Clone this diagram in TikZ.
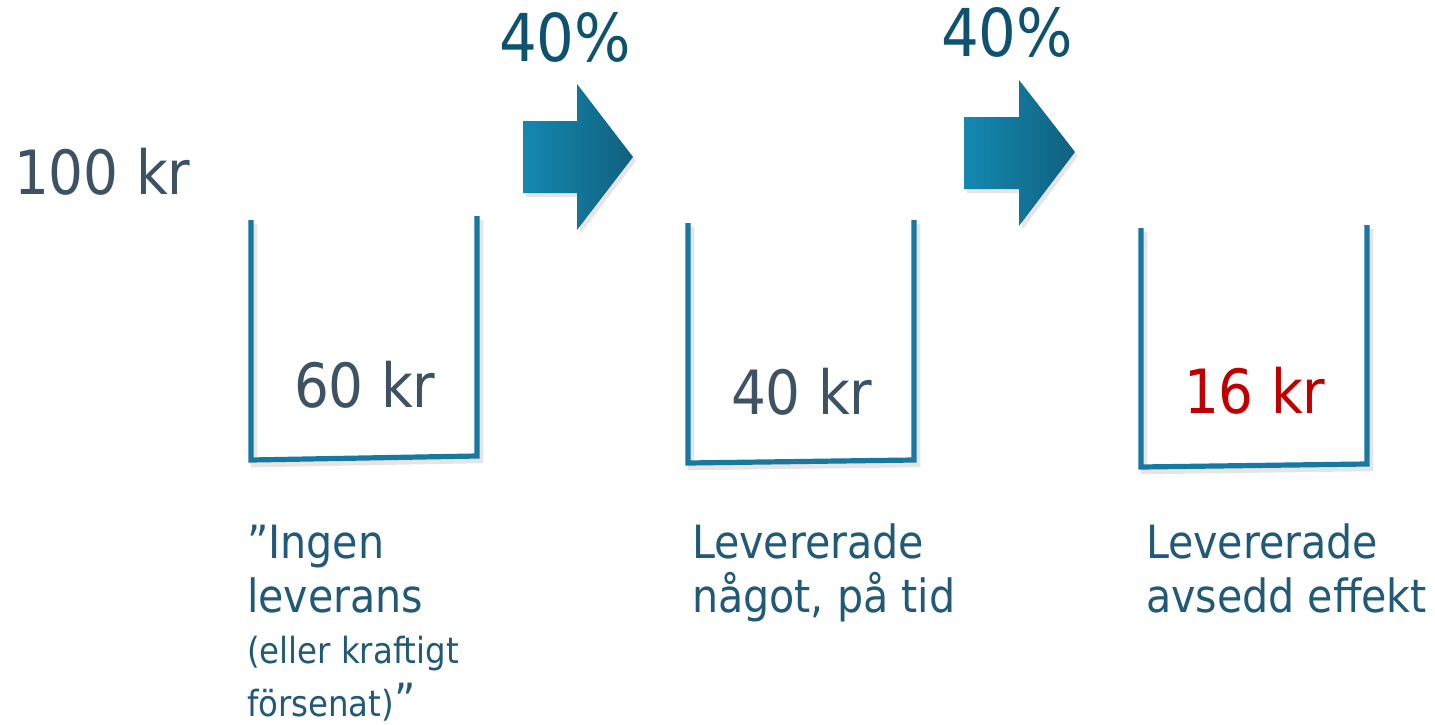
\documentclass[tikz,border=0pt]{standalone}
\usepackage{fontspec}
\setmainfont{DejaVu Sans Condensed}
\definecolor{numgray}{RGB}{61,82,98}
\definecolor{pctcol}{RGB}{14,82,112}
\definecolor{labcol}{RGB}{33,90,118}
\definecolor{redcol}{RGB}{192,0,0}
\definecolor{cupblue}{RGB}{23,120,160}
\definecolor{arrL}{RGB}{20,136,176}
\definecolor{arrR}{RGB}{16,97,127}
\tikzset{
  cup/.style={draw=cupblue, line width=5.2pt, line join=miter},
  cupshadow/.style={draw=black, opacity=0.10, line width=6.5pt},
  arrowshape/.style={left color=arrL, right color=arrR, draw=none},
  arrowshadow/.style={fill=black, opacity=0.10},
  txt/.style={inner sep=0pt, outer sep=0pt, anchor=base west},
  bignum/.style={txt, font=\fontsize{61}{70}\selectfont},
  pct/.style={txt, text=pctcol, font=\fontsize{66}{72}\selectfont},
  lab/.style={txt, text=labcol, font=\fontsize{45.8}{54}\selectfont},
  labsmall/.style={txt, text=labcol, font=\fontsize{36}{42}\selectfont},
}
\begin{document}
\begin{tikzpicture}[x=1pt, y=-1pt]
\useasboundingbox (0,0) rectangle (1435,725);

% cups with faint shadows
\foreach \xl/\xr/\yt/\yb/\d in {251/477/220/460/4, 688/914/223/463/3, 1141/1367/228/467/3}{
  \draw[cupshadow] (\xl+3,\yt+4) -- (\xl+3,\yb+4) -- (\xr+3,\yb+4-\d) -- (\xr+3,\yt+4-\d);
  \draw[cup] (\xl,\yt) -- (\xl,\yb) -- (\xr,\yb-\d) -- (\xr,\yt-\d);
}

% arrows
\fill[arrowshadow] (526,125) -- (580,125) -- (580,88) -- (636,161) -- (580,234) -- (580,197) -- (526,197) -- cycle;
\path[arrowshape] (523,121) -- (577,121) -- (577,84) -- (633,157) -- (577,230) -- (577,193) -- (523,193) -- cycle;
\fill[arrowshadow] (967,121) -- (1022,121) -- (1022,84) -- (1078,156) -- (1022,230) -- (1022,193) -- (967,193) -- cycle;
\path[arrowshape] (964,117) -- (1019,117) -- (1019,80) -- (1075,152) -- (1019,226) -- (1019,189) -- (964,189) -- cycle;

% percentages
\node[pct] (p1) at (499,62) {40\%};
\node[pct] (p2) at (941,57) {40\%};

% amounts
\node[bignum, text=numgray] (start) at (14,194) {100 kr};
\node[bignum, text=numgray] (a1) at (294,407) {60 kr};
\node[bignum, text=numgray] (a2) at (731,414) {40 kr};
\node[bignum, text=redcol] (a3) at (1184,413) {16 kr};

% labels
\node[lab] (l1a) at (247,558) {”Ingen};
\node[lab] (l1b) at (247,612) {leverans};
\node[labsmall] (l1c) at (247,663) {(eller kraftigt};
\node[labsmall] (l1d) at (247,716) {försenat)\fontsize{45.8}{54}\selectfont ”};
\node[lab] (l2a) at (692,558) {Levererade};
\node[lab] (l2b) at (692,612) {något, på tid};
\node[lab] (l3a) at (1146,558) {Levererade};
\node[lab] (l3b) at (1146,612) {avsedd effekt};
\end{tikzpicture}
\end{document}
